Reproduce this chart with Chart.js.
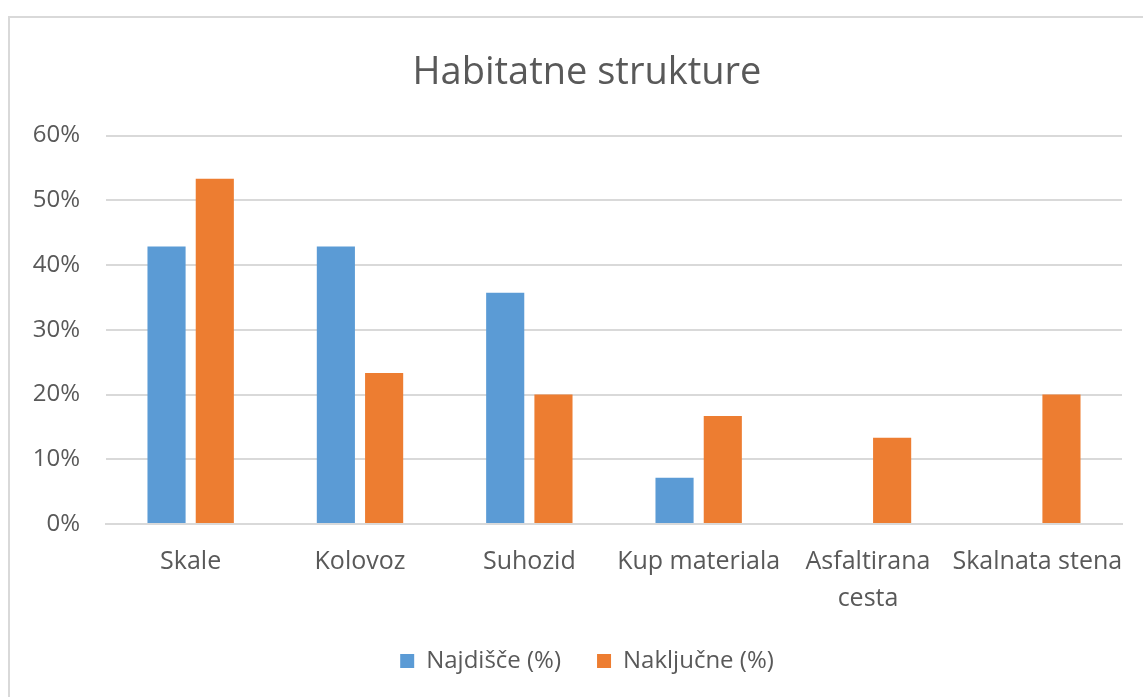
<!DOCTYPE html>
<html>
<head>
<meta charset="utf-8">
<script src="https://cdn.jsdelivr.net/npm/chart.js@4"></script>
<style>
  html, body { margin: 0; padding: 0; background: #fff; overflow: hidden; }
  #frame {
    position: absolute; left: 8px; top: 16px; width: 1200px; height: 760px;
    border: 2px solid #d9d9d9; box-sizing: border-box;
  }
  #wrap { position: absolute; left: 0; top: 0; width: 1174px; height: 697px; }
</style>
</head>
<body>
<div id="frame"></div>
<div id="wrap"><canvas id="chart"></canvas></div>
<script>
// Data
const categories = ['Skale', 'Kolovoz', 'Suhozid', 'Kup materiala', ['Asfaltirana', 'cesta'], 'Skalnata stena'];
const najdisce = [42.86, 42.86, 35.71, 7.14, 0, 0];
const nakljucne = [53.33, 23.33, 20.0, 16.67, 13.33, 20.0];
const yTicks = [0, 10, 20, 30, 40, 50, 60];

const FONT = 'Open Sans, sans-serif';
const TEXT = '#595959';
const GRID = '#d9d9d9';

const ctx = document.getElementById('chart').getContext('2d');
new Chart(ctx, {
    type: 'bar',
    data: {
        labels: categories,
        datasets: [
            { label: 'Najdišče (%)', data: najdisce, backgroundColor: '#5b9bd5' },
            { label: 'Naključne (%)', data: nakljucne, backgroundColor: '#ed7d31' }
        ]
    },
    options: {
        responsive: true,
        maintainAspectRatio: false,
        animation: false,
        categoryPercentage: 0.57,
        barPercentage: 0.79,
        layout: { padding: { left: 0, right: 0, top: 0, bottom: 14 } },
        plugins: {
            title: {
                display: true,
                text: 'Habitatne strukture',
                color: TEXT,
                font: { family: FONT, size: 38, weight: 'normal' },
                padding: { top: 50, bottom: 40 }
            },
            legend: {
                position: 'bottom',
                labels: {
                    color: TEXT,
                    font: { family: FONT, size: 24 },
                    boxWidth: 14, boxHeight: 14,
                    padding: 36
                }
            },
            tooltip: { enabled: false }
        },
        scales: {
            x: {
                grid: { display: false, drawTicks: false },
                border: { color: GRID, width: 2 },
                ticks: {
                    color: TEXT, font: { family: FONT, size: 25, lineHeight: 1.48 },
                    padding: 19, maxRotation: 0, autoSkip: false
                },
                afterFit: axis => { axis.height -= 23; }
            },
            y: {
                min: yTicks[0], max: yTicks[yTicks.length - 1],
                afterBuildTicks: axis => { axis.ticks = yTicks.map(v => ({ value: v })); },
                grid: { color: GRID, lineWidth: 2, drawTicks: false },
                border: { display: false },
                ticks: {
                    color: TEXT, font: { family: FONT, size: 24 },
                    padding: 26,
                    callback: v => v + '%'
                },
                afterFit: axis => { axis.width = 106; }
            },
            // empty right axis, only keeps the plot clear of the right edge
            yRight: {
                position: 'right',
                grid: { display: false, drawTicks: false },
                border: { display: false },
                ticks: { display: false },
                afterFit: axis => { axis.width = 52; }
            }
        }
    }
});
</script>
</body>
</html>
